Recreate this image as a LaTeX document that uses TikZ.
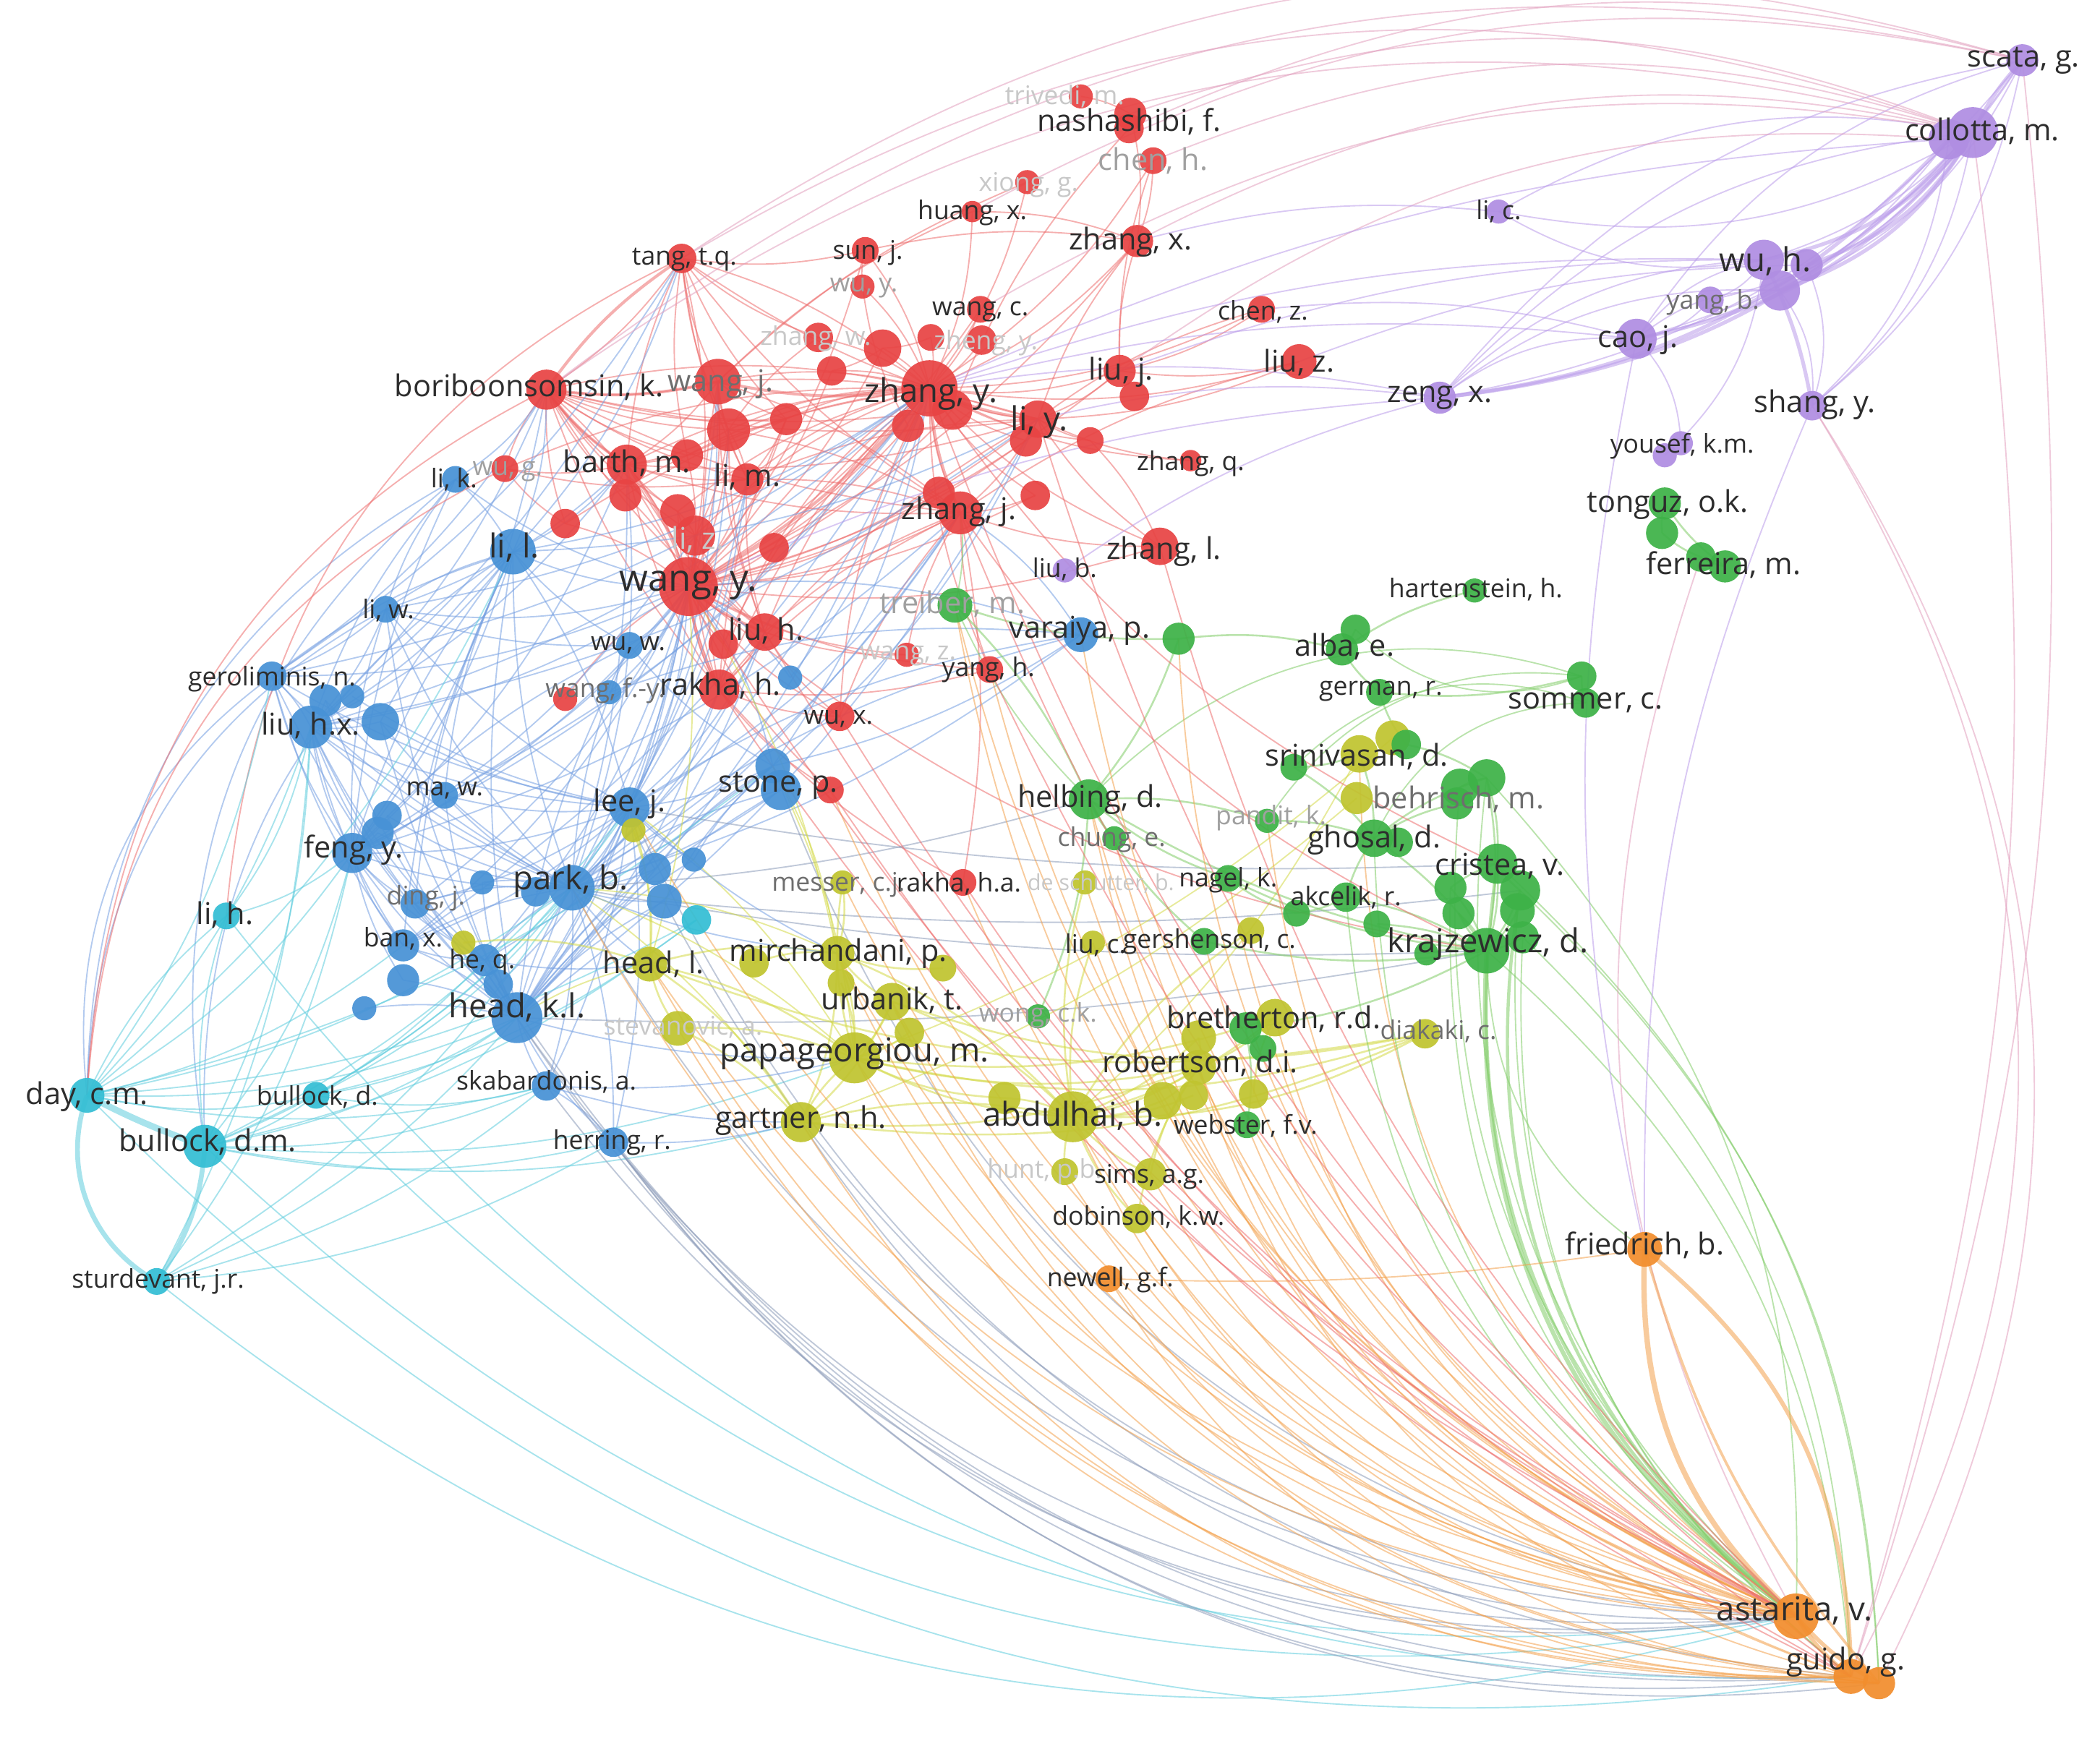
\documentclass[tikz,border=0pt]{standalone}
\usepackage{fontspec}
\setmainfont{Open Sans}
\pgfdeclarelayer{bg}
\pgfsetlayers{bg,main}
\definecolor{cR}{RGB}{232,68,68}
\definecolor{cB}{RGB}{72,146,214}
\definecolor{cC}{RGB}{52,190,212}
\definecolor{cY}{RGB}{192,196,48}
\definecolor{cG}{RGB}{62,178,72}
\definecolor{cP}{RGB}{176,142,226}
\definecolor{cO}{RGB}{242,142,46}
\definecolor{eR}{RGB}{238,110,110}
\definecolor{eB}{RGB}{118,160,226}
\definecolor{eC}{RGB}{95,205,222}
\definecolor{eY}{RGB}{212,218,72}
\definecolor{eG}{RGB}{130,205,105}
\definecolor{eP}{RGB}{186,156,234}
\definecolor{eO}{RGB}{244,162,78}
\definecolor{eK}{RGB}{140,155,185}
\definecolor{ePk}{RGB}{226,160,190}
\definecolor{txt}{RGB}{45,45,45}
\definecolor{fa}{RGB}{160,160,160}
\definecolor{fb}{RGB}{200,200,200}
\definecolor{fm}{RGB}{110,110,110}
\tikzset{
 nd/.style={circle,inner sep=0pt,draw=none,fill opacity=0.93},
 lab/.style={inner sep=0pt,text=txt},
 l1/.style={lab,font=\fontsize{9.6}{10}\selectfont},
 l2/.style={lab,font=\fontsize{11.2}{12}\selectfont},
 l3/.style={lab,font=\fontsize{12.3}{13}\selectfont},
 l4/.style={lab,font=\fontsize{13.8}{14}\selectfont},
 xx/.style={line width=0.5pt,draw opacity=0.55},
 xR/.style={xx,draw=eR},
 xB/.style={xx,draw=eB},
 xC/.style={xx,draw=eC},
 xY/.style={xx,draw=eY},
 xG/.style={xx,draw=eG},
 xP/.style={xx,draw=eP},
 xO/.style={xx,draw=eO},
 xK/.style={xx,draw=eK},
 xPk/.style={xx,draw=ePk},
}
\newcommand\Nd[5]{\node[nd,fill=#5,minimum size=#4pt] (#1) at (#2,#3) {};}
\newcommand\Lb[5]{\node[#4] (#1) at (#2,#3) {#5};}
\newcommand\Edg[3]{\foreach \a/\b in {#3} \draw[#1] (\a.center) to[bend right=#2] (\b.center);}
\begin{document}
\begin{tikzpicture}[x=0.5pt,y=-0.5pt]
\useasboundingbox (0,0) rectangle (1568,1300);
\begin{pgfonlayer}{bg}
\fill[white] (0,0) rectangle (1568,1300);
\end{pgfonlayer}
% ---------- nodes: red
\Nd{trivedi}{807}{72}{9}{cR}
\Nd{nashA}{844}{85}{12}{cR}
\Nd{nashB}{843}{96}{11}{cR}
\Nd{chenh}{861}{120}{10}{cR}
\Nd{xiong}{767}{136}{9}{cR}
\Nd{huang}{726}{158}{8}{cR}
\Nd{zhangx}{849}{180}{12}{cR}
\Nd{sunj}{646}{187}{10}{cR}
\Nd{wuy}{644}{214}{9}{cR}
\Nd{tang}{509}{193}{11}{cR}
\Nd{wangc}{732}{231}{10}{cR}
\Nd{chenz}{942}{231}{10}{cR}
\Nd{zhangw}{611}{252}{11}{cR}
\Nd{zhengA}{695}{252}{10}{cR}
\Nd{zhengB}{733}{254}{11}{cR}
\Nd{rA}{659}{260}{14}{cR}
\Nd{rB}{621}{277}{11}{cR}
\Nd{liuj}{836}{277}{12}{cR}
\Nd{liujB}{847}{296}{11}{cR}
\Nd{liuz}{970}{270}{13}{cR}
\Nd{zhangy}{694}{290}{21}{cR}
\Nd{zhangyB}{711}{306}{15}{cR}
\Nd{zhangyC}{678}{318}{12}{cR}
\Nd{liy}{775}{313}{14}{cR}
\Nd{liyB}{766}{329}{12}{cR}
\Nd{rC}{814}{329}{10}{cR}
\Nd{wangj}{536}{285}{17}{cR}
\Nd{rD}{587}{313}{12}{cR}
\Nd{rE}{544}{321}{16}{cR}
\Nd{bori}{408}{291}{15}{cR}
\Nd{barth}{468}{347}{15}{cR}
\Nd{barthB}{467}{370}{12}{cR}
\Nd{rI}{513}{340}{12}{cR}
\Nd{rF}{506}{382}{13}{cR}
\Nd{rG}{422}{391}{11}{cR}
\Nd{lim}{558}{358}{12}{cR}
\Nd{wug}{377}{350}{10}{cR}
\Nd{liz}{519}{400}{15}{cR}
\Nd{rM}{578}{409}{11}{cR}
\Nd{rN}{773}{370}{11}{cR}
\Nd{zhangjB}{701}{368}{12}{cR}
\Nd{zhangj}{717}{383}{16}{cR}
\Nd{zhangq}{889}{344}{8}{cR}
\Nd{zhangl}{866}{408}{14}{cR}
\Nd{wangy}{514}{438}{22}{cR}
\Nd{liuh}{571}{472}{14}{cR}
\Nd{liuhB}{540}{481}{11}{cR}
\Nd{rakha}{537}{515}{15}{cR}
\Nd{wangfy}{422}{522}{9}{cR}
\Nd{wux}{627}{535}{11}{cR}
\Nd{wangz}{677}{489}{9}{cR}
\Nd{yangh}{739}{500}{10}{cR}
\Nd{stoneR}{620}{590}{10}{cR}
\Nd{rakhaha}{719}{659}{10}{cR}
% ---------- nodes: blue
\Nd{lik}{340}{358}{10}{cB}
\Nd{lil}{383}{412}{17}{cB}
\Nd{liw}{288}{455}{10}{cB}
\Nd{wuw}{470}{482}{10}{cB}
\Nd{wangfyB}{455}{517}{9}{cB}
\Nd{bBlue}{590}{506}{9}{cB}
\Nd{gero}{203}{505}{11}{cB}
\Nd{liuhx}{232}{543}{16}{cB}
\Nd{bBa}{243}{523}{12}{cB}
\Nd{bBb}{263}{520}{9}{cB}
\Nd{bBc}{284}{539}{14}{cB}
\Nd{mawA}{332}{594}{10}{cB}
\Nd{bBd}{289}{609}{11}{cB}
\Nd{bBe}{282}{622}{12}{cB}
\Nd{feng}{263}{637}{15}{cB}
\Nd{dingj}{310}{675}{11}{cB}
\Nd{bBf}{360}{659}{9}{cB}
\Nd{parkB}{400}{666}{11}{cB}
\Nd{park}{427}{663}{17}{cB}
\Nd{lee}{470}{603}{15}{cB}
\Nd{bBg}{489}{649}{12}{cB}
\Nd{bBh}{518}{642}{9}{cB}
\Nd{bBi}{496}{673}{13}{cB}
\Nd{banx}{301}{706}{12}{cB}
\Nd{heq}{362}{717}{12}{cB}
\Nd{heqB}{372}{735}{11}{cB}
\Nd{bBj}{301}{732}{12}{cB}
\Nd{bBk}{272}{753}{9}{cB}
\Nd{headkl}{386}{760}{19}{cB}
\Nd{skab}{408}{811}{11}{cB}
\Nd{herring}{458}{853}{11}{cB}
\Nd{stone}{577}{572}{13}{cB}
\Nd{stoneB}{583}{590}{15}{cB}
\Nd{varaiya}{807}{474}{13}{cB}
% ---------- nodes: cyan
\Nd{cyanC}{520}{687}{11}{cC}
\Nd{liH}{169}{684}{10}{cC}
\Nd{daycm}{65}{818}{13}{cC}
\Nd{bullockd}{236}{818}{10}{cC}
\Nd{bullockdm}{153}{856}{16}{cC}
\Nd{sturd}{117}{957}{10}{cC}
% ---------- nodes: yellow
\Nd{leeY}{473}{620}{9}{cY}
\Nd{yelBan}{346}{704}{9}{cY}
\Nd{headl}{485}{720}{13}{cY}
\Nd{stev}{506}{768}{13}{cY}
\Nd{mirchA}{563}{719}{11}{cY}
\Nd{mirch}{625}{712}{13}{cY}
\Nd{mirchB}{704}{723}{10}{cY}
\Nd{mirchC}{628}{734}{10}{cY}
\Nd{messer}{629}{659}{9}{cY}
\Nd{desch}{810}{659}{9}{cY}
\Nd{urbanik}{666}{748}{14}{cY}
\Nd{urbB}{679}{771}{11}{cY}
\Nd{papa}{638}{790}{19}{cY}
\Nd{gartner}{598}{838}{15}{cY}
\Nd{abdB}{750}{820}{12}{cY}
\Nd{abd}{801}{834}{19}{cY}
\Nd{abdC}{868}{822}{14}{cY}
\Nd{abdD}{891}{818}{11}{cY}
\Nd{liuc}{816}{704}{9}{cY}
\Nd{gershY}{934}{695}{10}{cY}
\Nd{brY}{895}{775}{13}{cY}
\Nd{bretherton}{952}{760}{14}{cY}
\Nd{robertson}{895}{797}{13}{cY}
\Nd{yL}{936}{817}{11}{cY}
\Nd{hunt}{795}{875}{10}{cY}
\Nd{sims}{859}{877}{12}{cY}
\Nd{dobinson}{849}{910}{11}{cY}
\Nd{diakaki}{1064}{772}{11}{cY}
\Nd{srinY}{1015}{563}{14}{cY}
\Nd{srinYb}{1040}{551}{13}{cY}
\Nd{srinYc}{1013}{596}{12}{cY}
% ---------- nodes: green
\Nd{treiber}{713}{452}{13}{cG}
\Nd{greenV}{880}{477}{12}{cG}
\Nd{alba}{1002}{485}{12}{cG}
\Nd{albaB}{1012}{470}{11}{cG}
\Nd{german}{1030}{517}{10}{cG}
\Nd{hart}{1101}{441}{9}{cG}
\Nd{sommer}{1181}{505}{11}{cG}
\Nd{sommerB}{1184}{525}{11}{cG}
\Nd{srinG}{1050}{556}{11}{cG}
\Nd{srinGb}{966}{573}{10}{cG}
\Nd{pandit}{946}{613}{9}{cG}
\Nd{ghosal}{1026}{626}{14}{cG}
\Nd{ghosalB}{1044}{629}{11}{cG}
\Nd{behr}{1110}{581}{14}{cG}
\Nd{behrB}{1090}{588}{14}{cG}
\Nd{behrC}{1088}{600}{12}{cG}
\Nd{helbing}{813}{597}{15}{cG}
\Nd{chung}{832}{626}{9}{cG}
\Nd{nagel}{917}{656}{10}{cG}
\Nd{akcelik}{1005}{670}{11}{cG}
\Nd{akB}{968}{682}{10}{cG}
\Nd{akC}{1028}{690}{10}{cG}
\Nd{akD}{1065}{712}{9}{cG}
\Nd{cristea}{1118}{645}{15}{cG}
\Nd{crB}{1135}{665}{15}{cG}
\Nd{crC}{1133}{680}{13}{cG}
\Nd{crD}{1083}{663}{12}{cG}
\Nd{crE}{1089}{682}{12}{cG}
\Nd{kraj}{1110}{710}{17}{cG}
\Nd{krajB}{1137}{700}{12}{cG}
\Nd{gersh}{899}{703}{10}{cG}
\Nd{wongck}{775}{759}{9}{cG}
\Nd{brG}{930}{768}{12}{cG}
\Nd{brGb}{943}{783}{10}{cG}
\Nd{webster}{931}{840}{10}{cG}
\Nd{tonguz}{1243}{376}{12}{cG}
\Nd{tonguzB}{1241}{398}{12}{cG}
\Nd{ferreira}{1270}{416}{11}{cG}
\Nd{ferreiraB}{1288}{423}{12}{cG}
% ---------- nodes: purple
\Nd{scata}{1510}{45}{12}{cP}
\Nd{collottaB}{1455}{104}{15}{cP}
\Nd{collotta}{1473}{99}{19}{cP}
\Nd{lic}{1119}{158}{9}{cP}
\Nd{wuh}{1317}{194}{15}{cP}
\Nd{wuhB}{1349}{198}{12}{cP}
\Nd{wuhC}{1329}{217}{15}{cP}
\Nd{yangb}{1277}{224}{10}{cP}
\Nd{caoj}{1222}{253}{15}{cP}
\Nd{zengx}{1075}{297}{12}{cP}
\Nd{shang}{1353}{303}{11}{cP}
\Nd{yousef}{1255}{331}{9}{cP}
\Nd{yousefB}{1243}{340}{9}{cP}
\Nd{liub}{795}{426}{9}{cP}
% ---------- nodes: orange
\Nd{newell}{828}{955}{10}{cO}
\Nd{friedrich}{1228}{933}{13}{cO}
\Nd{astarita}{1341}{1207}{17}{cO}
\Nd{guido}{1382}{1252}{13}{cO}
\Nd{guidoB}{1403}{1257}{12}{cO}
% ================= edges
\begin{pgfonlayer}{bg}
% red intra
\Edg{xR,line width=1.1pt}{10}{wangy/zhangy,bori/barth,bori/wangj,wangy/liuh,wangy/rakha,wangy/barth,zhangy/liy,zhangy/zhangj,wangy/liz,tang/bori,wangj/zhangy}
\Edg{xR}{12}{wangy/zhangy,wangy/bori,wangy/barth,wangy/lim,wangy/wangj,wangy/liuh,wangy/rakha,wangy/liz,wangy/zhangj,wangy/liy,wangy/rD,wangy/rE,wangy/wux,wangy/tang,wangy/wangfy,wangy/rG,wangy/rF,wangy/liuj,wangy/zhangl,wangy/wangz,wangy/yangh,wangy/sunj,wangy/wangc,wangy/rB,wangy/rA,wangy/zhangyB,wangy/liuhB,wangy/rM,wangy/rI,wangy/barthB,wangy/zhangjB,wangy/stoneR,wangy/zhangyC,wangy/liyB,wangy/rN,wangy/zhangx}
\Edg{xR}{12}{zhangy/bori,zhangy/wangj,zhangy/liy,zhangy/zhangj,zhangy/liuj,zhangy/rA,zhangy/rB,zhangy/zhengA,zhangy/zhengB,zhangy/wangc,zhangy/sunj,zhangy/zhangx,zhangy/huang,zhangy/tang,zhangy/barth,zhangy/lim,zhangy/liuh,zhangy/rakha,zhangy/zhangq,zhangy/liz,zhangy/rE,zhangy/chenz,zhangy/liuz,zhangy/rD,zhangy/rF,zhangy/rG,zhangy/wug,zhangy/rN,zhangy/rC,zhangy/liyB,zhangy/xiong,zhangy/chenh,zhangy/zhangw,zhangy/wuy,zhangy/yangh,zhangy/barthB,zhangy/rI,zhangy/rM,zhangy/liuhB,zhangy/wux,zhangy/zhangl}
\Edg{xR}{10}{bori/tang,bori/barth,bori/wangj,bori/rE,bori/wug,bori/rG,bori/barthB,bori/lim,bori/liz,bori/rI,bori/rF,bori/zhangyB,bori/liy,barth/rF,barth/lim,barth/rakha,barth/liuh,barth/wangj,barth/rE,barth/zhangj,tang/wangj,tang/rE,tang/barth,tang/lim,tang/sunj,tang/rI,tang/zhangj,tang/liy,bori/rD,bori/zhangj,bori/liuh,bori/rakha,barth/liy,barth/rD,tang/rD,tang/zhangw,wug/barth,wug/lim,wug/rG}
\Edg{xR}{10}{zhangj/liy,zhangj/rakha,zhangj/liuh,zhangj/yangh,zhangj/zhangl,zhangj/wangz,zhangj/lim,zhangj/rE,zhangj/wangj,zhangj/rN,liy/liuj,liy/zhangl,liy/rC,liy/zhangq,liy/wangj,liy/lim,liy/liuz,liuj/liuz,liuj/chenz,zhangx/chenh,zhangx/nashA,zhangx/huang,zhangx/liy,zhangx/sunj,nashA/trivedi,nashB/zhangyB,xiong/wangj,rakha/liuh,rakha/wux,rakha/rakhaha,rakha/stoneR,liuh/wux,liuh/wangz,rakha/yangh,rakhaha/zhangj,wangj/rD,wangj/rE,wangj/lim,lim/rD,lim/rE,liz/rF,liz/rE,rE/rD,rB/rA,rA/zhengA,sunj/wuy,wuy/zhangyC,zhangw/rE,zhangx/liuj,chenz/liy,liuz/zhangj,zhangl/rC,huang/wangj,chenh/liuj,liz/liuh,liz/rakha,rF/rakha,rE/liuh,rD/rakha,wangj/liuh,wangj/rakha,liy/rakha,zhangj/wux,lim/liuh,rM/rakha}
% blue intra
\Edg{xB}{10}{liuhx/feng,liuhx/gero,liuhx/park,liuhx/headkl,liuhx/lil,liuhx/liw,liuhx/bBc,liuhx/bBa,liuhx/mawA,liuhx/lee,liuhx/banx,feng/park,feng/headkl,feng/mawA,feng/dingj,feng/lil,feng/lee,feng/bBe,feng/heq,park/headkl,park/lee,park/heq,park/stone,park/banx,park/bBg,park/bBi,park/dingj,park/parkB,headkl/heq,headkl/banx,headkl/skab,headkl/herring,headkl/lee,headkl/bBj,headkl/bBk,headkl/dingj,lee/stone,lee/lil,lee/bBg,lil/lik,lil/liw,lil/gero,lil/wuw,lil/park,lik/liw,liw/wuw,gero/park,gero/headkl,gero/feng,stone/varaiya,park/varaiya,herring/skab,bBc/park,bBd/park,mawA/park,mawA/lee,wuw/park,lil/headkl,liw/feng,banx/heq,dingj/heq,skab/park,herring/park,stone/bBi,stoneB/headkl,bBb/lee,bBh/headkl,heqB/lee}
\Edg{xB}{10}{gero/liw,liuhx/dingj,liuhx/heq,feng/banx,feng/bBj,park/bBf,headkl/heqB,lee/bBh,stone/bBg,park/stoneB,lil/mawA,lil/feng,lil/bBc,lil/dingj,lil/banx,lik/feng,lik/liuhx,liw/park,liw/headkl,liw/lee,gero/lee,gero/banx,bBa/headkl,bBa/park,bBc/headkl,bBc/lee,bBd/headkl,bBe/park,mawA/headkl,dingj/lee,banx/lee,wuw/headkl,wuw/feng,wuw/stone,bBg/headkl,bBi/headkl,bBf/headkl,skab/lee,herring/lee,stone/headkl,stoneB/park,stone/bBh}
% blue to red
\Edg{xB}{12}{lil/wangy,lik/bori,park/wangy,headkl/wangy,lee/wangy,liuhx/wangy,liuhx/zhangy,feng/zhangy,feng/wangy,park/zhangy,headkl/zhangy,lil/zhangy,lil/bori,gero/wangy,mawA/wangy,liw/zhangy,lee/zhangj,park/zhangj,banx/wangy,liw/wangy,gero/bori,feng/bori,liuhx/barth,lil/barth,park/rakha,headkl/rakha,lee/liuh,wuw/wangy,wangfyB/wangy,bBlue/wangy,bBlue/zhangy,stone/zhangy,stone/wangy,dingj/wangy,heq/wangy,lil/liy,liuhx/liy,feng/zhangj,gero/zhangy,lik/wangy,varaiya/zhangj,varaiya/wangy,varaiya/park,varaiya/lee,varaiya/wangfyB}
\Edg{xB}{12}{liuhx/bori,feng/barth,park/barth,headkl/barth,lil/tang,liuhx/tang,park/wangj,lee/rE,park/lim,headkl/liz,feng/liz,liw/barth,gero/tang,headkl/liy,lee/wangj,park/liuh,headkl/liuh,banx/zhangy,heq/zhangj,mawA/zhangy,stone/liy,lee/lim}
% left big arcs
\Edg{xB}{30}{lik/daycm,liw/daycm,gero/daycm,lil/bullockdm,lik/bullockdm}
\Edg{xR}{30}{bori/daycm,wug/daycm,tang/liH}
% cyan
\Edg{xC,line width=2.4pt}{4}{daycm/bullockdm}
\Edg{xC,line width=1.8pt}{40}{daycm/sturd}
\Edg{xC,line width=1.8pt}{15}{sturd/bullockdm}
\Edg{xC}{12}{daycm/bullockd,bullockdm/bullockd,bullockdm/headkl,bullockdm/park,bullockdm/liuhx,daycm/liuhx,daycm/feng,daycm/park,daycm/lil,liH/daycm,liH/bullockdm,liH/liuhx,liH/feng,bullockdm/herring,bullockdm/skab,daycm/headkl,daycm/gero,bullockd/headkl,bullockd/park,bullockdm/lee,sturd/headkl,sturd/park,sturd/liuhx,sturd/feng,bullockdm/heq,bullockdm/feng,daycm/banx,bullockd/skab,bullockdm/papa,bullockdm/gartner,daycm/stone,bullockdm/cyanC,daycm/cyanC,bullockd/cyanC,sturd/herring,daycm/skab,sturd/skab,bullockd/lee}
\Edg{xC}{27}{sturd/astarita,bullockdm/astarita,daycm/guido,bullockd/astarita,liH/guido}
% gray-blue long
\Edg{xK}{30}{herring/astarita,herring/guido,skab/astarita,headkl/astarita,headkl/guido,park/astarita,gartner/astarita,lee/guido,stone/astarita,bBi/astarita,heq/guido,herring/guidoB}
\Edg{xK}{6}{park/kraj,lee/cristea,headkl/kraj,park/helbing,bBi/crB}
% yellow
\Edg{xY,line width=0.7pt}{12}{papa/gartner,papa/abd,papa/mirch,papa/urbanik,papa/headl,papa/stev,papa/robertson,papa/bretherton,papa/mirchC,papa/urbB,papa/abdB,abd/robertson,abd/bretherton,abd/gartner,abd/sims,abd/hunt,abd/abdB,abd/abdC,abd/abdD,abd/mirch,abd/urbanik,abd/brY,abd/dobinson,gartner/mirch,gartner/urbanik,gartner/headl,gartner/stev,gartner/robertson,mirch/headl,mirch/urbanik,mirch/messer,mirch/mirchA,mirch/mirchB,headl/stev,headl/leeY,headl/yelBan,robertson/bretherton,robertson/sims,robertson/dobinson,robertson/brY,bretherton/yL,abdC/robertson,messer/papa,desch/abd,liuc/abd,gershY/abd,urbanik/urbB}
\Edg{xY,line width=0.7pt}{15}{gartner/diakaki,papa/diakaki,abd/diakaki,headl/diakaki,urbanik/diakaki}
\Edg{xY}{10}{headl/wangy,mirch/wangy,papa/stone,papa/lee,papa/park,mirch/park,gartner/park,abd/srinY,papa/srinYb,gartner/srinYc,headl/headkl,headl/lee,mirch/stone}
\Edg{xB}{8}{headkl/papa,park/mirch,skab/gartner,herring/gartner,skab/papa,heq/headl,park/headl,lee/mirch}
% green
\Edg{xG,line width=0.7pt}{10}{kraj/cristea,kraj/behr,kraj/ghosal,kraj/crB,kraj/crC,kraj/crD,kraj/crE,kraj/krajB,kraj/akcelik,kraj/akC,kraj/akD,cristea/crB,cristea/behr,cristea/crD,behr/behrB,behr/ghosal,behr/srinG,ghosal/srinY,ghosal/pandit,ghosal/srinGb,ghosal/akcelik,alba/german,alba/albaB,alba/greenV,german/sommer,german/srinG,sommer/sommerB,helbing/treiber,helbing/chung,helbing/kraj,helbing/nagel,helbing/gersh,helbing/greenV,nagel/kraj,nagel/akB,gersh/kraj,wongck/helbing,brG/kraj,brG/bretherton,webster/brG,tonguz/tonguzB,tonguzB/ferreira,tonguz/ferreiraB,ferreira/ferreiraB,hart/alba,treiber/greenV,pandit/helbing,akB/akcelik,srinGb/srinY,behrC/ghosal,crE/kraj}
\Edg{xG}{32}{sommer/pandit,sommerB/srinGb,sommer/helbing,sommerB/ghosal,albaB/sommer}
\Edg{xG,line width=1.6pt}{28}{kraj/astarita}
\Edg{xG,line width=1.2pt}{30}{cristea/astarita,crB/astarita}
\Edg{xG}{27}{crC/guido,behr/astarita,ghosal/astarita,akcelik/astarita,krajB/guido,kraj/friedrich,behrB/astarita,crD/astarita}
\Edg{xG}{22}{guido/kraj,guidoB/cristea,guidoB/crB,guido/krajB,astarita/behr}
\Edg{xG}{10}{treiber/helbing,treiber/zhangj}
% purple
\Edg{xP,line width=1.4pt}{8}{scata/collotta,shang/wuh}
\Edg{xP,line width=1.4pt}{20}{zengx/collotta,caoj/collotta,wuh/collotta,wuhC/collotta,wuhB/collotta,zengx/collottaB}
\Edg{xP}{20}{zengx/scata,caoj/scata,wuh/scata,wuhC/scata,wuh/caoj,wuh/zengx,wuhC/caoj,wuhC/zengx,caoj/zengx,yangb/wuh,lic/collotta,lic/wuh,shang/scata,shang/collotta,yousef/caoj,caoj/collottaB,yangb/collotta,shang/wuhC,shang/wuhB,caoj/yangb,shang/collottaB,yousefB/wuh}
\Edg{xP}{20}{scata/zengx,collotta/zengx,scata/caoj,collotta/lic}
% purple to red (top arcs)
\Edg{xPk}{20}{collotta/nashA,collotta/chenh,collotta/zhangx,scata/nashB,collotta/wangc,scata/huang,collottaB/liuj}
\Edg{xPk}{25}{scata/tang,collotta/bori,scata/bori,collotta/tang}
\Edg{xP}{10}{collottaB/zhangy,wuh/zhangy,wuh/liuj,caoj/zhangy,zengx/zhangy,zengx/liy,caoj/chenz,wuhB/liuz,zengx/liub,lic/zhangx,zengx/wangy}
% purple long
\Edg{xPk}{12}{guido/collotta,guido/scata}
\Edg{xPk}{30}{guido/shang,guidoB/shang}
\Edg{xPk}{24}{ferreira/astarita}
\Edg{xP}{12}{caoj/friedrich,shang/friedrich}
% orange
\Edg{xO,line width=2pt}{25}{friedrich/astarita}
\Edg{xO,line width=1.6pt}{25}{guido/friedrich}
\Edg{xO,line width=1pt}{12}{friedrich/guidoB}
\Edg{xO,line width=1.5pt}{10}{astarita/guido,astarita/guidoB}
\Edg{xO}{5}{newell/friedrich}
\Edg{xO}{26}{newell/astarita,papa/astarita,abd/astarita,urbanik/astarita,mirch/astarita,helbing/astarita,rakhaha/astarita,yangh/astarita,stoneR/astarita,headl/astarita,bretherton/astarita,robertson/astarita,srinY/astarita,chung/astarita,treiber/astarita,varaiya/astarita,lee/astarita,desch/astarita,liuc/astarita,gersh/astarita,nagel/astarita,pandit/astarita,dobinson/astarita,sims/astarita,webster/astarita,hunt/astarita,messer/astarita}
\Edg{xO}{30}{newell/guido,papa/guido,gartner/guido,abd/guidoB,urbanik/guido,robertson/guidoB,mirch/guidoB,helbing/guido,stev/guido,headl/guidoB,park/guidoB,greenV/astarita,treiber/guido}
% red long
\Edg{xR}{15}{rakhaha/astarita,yangh/guido,zhangj/astarita,liuh/guido,rakha/astarita,wangy/astarita,zhangy/guido,zhangl/astarita,wux/astarita,stoneR/guido,liy/astarita,zhangj/kraj,wangy/kraj,zhangy/cristea}
\end{pgfonlayer}
% ================= labels
\Lb{tTriv}{795}{72}{l1,text=fb}{trivedi, m.}
\Lb{tNash}{843}{91}{l2}{nashashibi, f.}
\Lb{tChenh}{861}{120}{l2,text=fa}{chen, h.}
\Lb{tXiong}{768}{138}{l1,text=fb}{xiong, g.}
\Lb{tHuang}{726}{159}{l1}{huang, x.}
\Lb{tZhangx}{844}{181}{l2}{zhang, x.}
\Lb{tSunj}{648}{189}{l1}{sun, j.}
\Lb{tWuy}{645}{215}{l1,text=fa}{wu, y.}
\Lb{tTang}{511}{194}{l1}{tang, t.q.}
\Lb{tWangc}{732}{233}{l1}{wang, c.}
\Lb{tChenz}{943}{233}{l1}{chen, z.}
\Lb{tZhangw}{609}{253}{l1,text=fb}{zhang, w.}
\Lb{tZheng}{736}{256}{l1,text=fb}{zheng, y.}
\Lb{tLiuj}{837}{278}{l2}{liu, j.}
\Lb{tLiuz}{970}{271}{l2}{liu, z.}
\Lb{tWangj}{538}{287}{l2,text=fm}{wang, j.}
\Lb{tBori}{395}{289}{l2}{boriboonsomsin, k.}
\Lb{tZhangy}{695}{294}{l3}{zhang, y.}
\Lb{tLiy}{776}{315}{l3}{li, y.}
\Lb{tZhangq}{889}{346}{l1}{zhang, q.}
\Lb{tBarth}{468}{346}{l2}{barth, m.}
\Lb{tLim}{558}{356}{l2}{li, m.}
\Lb{tWug}{379}{352}{l1,text=fa}{wu, g.}
\Lb{tZhangj}{716}{382}{l2}{zhang, j.}
\Lb{tLiz}{521}{403}{l2,text=fb}{li, z.}
\Lb{tZhangl}{869}{412}{l2}{zhang, l.}
\Lb{tLiub}{795}{425}{l1}{liu, b.}
\Lb{tWangy}{514}{437}{l4}{wang, y.}
\Lb{tLiuh}{572}{471}{l2}{liu, h.}
\Lb{tWangz}{678}{490}{l1,text=fb}{wang, z.}
\Lb{tYangh}{738}{500}{l1}{yang, h.}
\Lb{tRakha}{538}{512}{l2}{rakha, h.}
\Lb{tWangfy}{452}{516}{l1,text=fm}{wang, f.-y.}
\Lb{tWux}{626}{537}{l1}{wu, x.}
\Lb{tDesch}{822}{660}{l1,text=fb,font=\fontsize{8.2}{9}\selectfont}{de schutter, b.}
\Lb{tRakhaha}{716}{660}{l1}{rakha, h.a.}
\Lb{tLik}{339}{358}{l1}{li, k.}
\Lb{tLil}{384}{409}{l3}{li, l.}
\Lb{tLiw}{290}{456}{l1}{li, w.}
\Lb{tWuw}{469}{482}{l1}{wu, w.}
\Lb{tGero}{203}{507}{l1}{geroliminis, n.}
\Lb{tLiuhx}{232}{542}{l2}{liu, h.x.}
\Lb{tMaw}{332}{590}{l1}{ma, w.}
\Lb{tFeng}{264}{635}{l2}{feng, y.}
\Lb{tLee}{470}{600}{l2}{lee, j.}
\Lb{tStone}{581}{587}{l2}{stone, p.}
\Lb{tPark}{426}{658}{l3}{park, b.}
\Lb{tDingj}{318}{671}{l1,text=fm}{ding, j.}
\Lb{tLiH}{168}{683}{l2}{li, h.}
\Lb{tBanx}{301}{701}{l1}{ban, x.}
\Lb{tHeq}{360}{718}{l1}{he, q.}
\Lb{tHeadkl}{386}{752}{l3}{head, k.l.}
\Lb{tSkab}{408}{808}{l1}{skabardonis, a.}
\Lb{tHerring}{457}{853}{l1}{herring, r.}
\Lb{tVaraiya}{806}{471}{l2}{varaiya, p.}
\Lb{tDay}{65}{819}{l2}{day, c.m.}
\Lb{tBullockd}{237}{819}{l1}{bullock, d.}
\Lb{tBullockdm}{155}{853}{l2}{bullock, d.m.}
\Lb{tSturd}{118}{957}{l1}{sturdevant, j.r.}
\Lb{tHeadl}{488}{720}{l2}{head, l.}
\Lb{tStev}{510}{767}{l1,text=fb}{stevanovic, a.}
\Lb{tMirch}{626}{712}{l2}{mirchandani, p.}
\Lb{tMesser}{626}{661}{l1,text=fm}{messer, c.j.}
\Lb{tUrbanik}{666}{747}{l2}{urbanik, t.}
\Lb{tPapa}{638}{787}{l3}{papageorgiou, m.}
\Lb{tGartner}{598}{837}{l2}{gartner, n.h.}
\Lb{tAbd}{801}{833}{l3}{abdulhai, b.}
\Lb{tLiuc}{818}{706}{l1}{liu, c.}
\Lb{tGersh}{903}{703}{l1}{gershenson, c.}
\Lb{tWongck}{775}{758}{l1,text=fa}{wong, c.k.}
\Lb{tBreth}{951}{761}{l2}{bretherton, r.d.}
\Lb{tDiak}{1074}{770}{l1,text=fm}{diakaki, c.}
\Lb{tRobert}{896}{794}{l2}{robertson, d.i.}
\Lb{tWebster}{930}{841}{l1}{webster, f.v.}
\Lb{tHunt}{780}{875}{l1,text=fb}{hunt, p.b.}
\Lb{tSims}{858}{879}{l1}{sims, a.g.}
\Lb{tDobinson}{850}{909}{l1}{dobinson, k.w.}
\Lb{tNewell}{829}{956}{l1}{newell, g.f.}
\Lb{tSrini}{1013}{565}{l2}{srinivasan, d.}
\Lb{tBehr}{1089}{597}{l2,text=fm}{behrisch, m.}
\Lb{tHelbing}{814}{597}{l2}{helbing, d.}
\Lb{tPandit}{949}{611}{l1,text=fa}{pandit, k.}
\Lb{tChung}{830}{627}{l1,text=fm}{chung, e.}
\Lb{tGhosal}{1026}{627}{l2}{ghosal, d.}
\Lb{tNagel}{917}{657}{l1}{nagel, k.}
\Lb{tAkcelik}{1005}{670}{l1}{akcelik, r.}
\Lb{tCristea}{1120}{647}{l2}{cristea, v.}
\Lb{tKraj}{1111}{705}{l3}{krajzewicz, d.}
\Lb{tTreiber}{711}{451}{l2,text=fa}{treiber, m.}
\Lb{tAlba}{1004}{483}{l2}{alba, e.}
\Lb{tGerman}{1031}{516}{l1}{german, r.}
\Lb{tHart}{1102}{440}{l1}{hartenstein, h.}
\Lb{tSommer}{1184}{525}{l2}{sommer, c.}
\Lb{tTonguz}{1245}{377}{l2}{tonguz, o.k.}
\Lb{tFerreira}{1287}{422}{l2}{ferreira, m.}
\Lb{tScata}{1511}{45}{l2}{scata, g.}
\Lb{tCollotta}{1480}{98}{l2}{collotta, m.}
\Lb{tLic}{1119}{158}{l1}{li, c.}
\Lb{tWuh}{1318}{195}{l3}{wu, h.}
\Lb{tYangb}{1279}{226}{l1,text=fm}{yang, b.}
\Lb{tCaoj}{1223}{254}{l2}{cao, j.}
\Lb{tZengx}{1075}{297}{l2}{zeng, x.}
\Lb{tShang}{1355}{302}{l2}{shang, y.}
\Lb{tYousef}{1256}{333}{l1}{yousef, k.m.}
\Lb{tFried}{1228}{930}{l2}{friedrich, b.}
\Lb{tAstarita}{1340}{1203}{l3}{astarita, v.}
\Lb{tGuido}{1378}{1241}{l2}{guido, g.}
\end{tikzpicture}
\end{document}
